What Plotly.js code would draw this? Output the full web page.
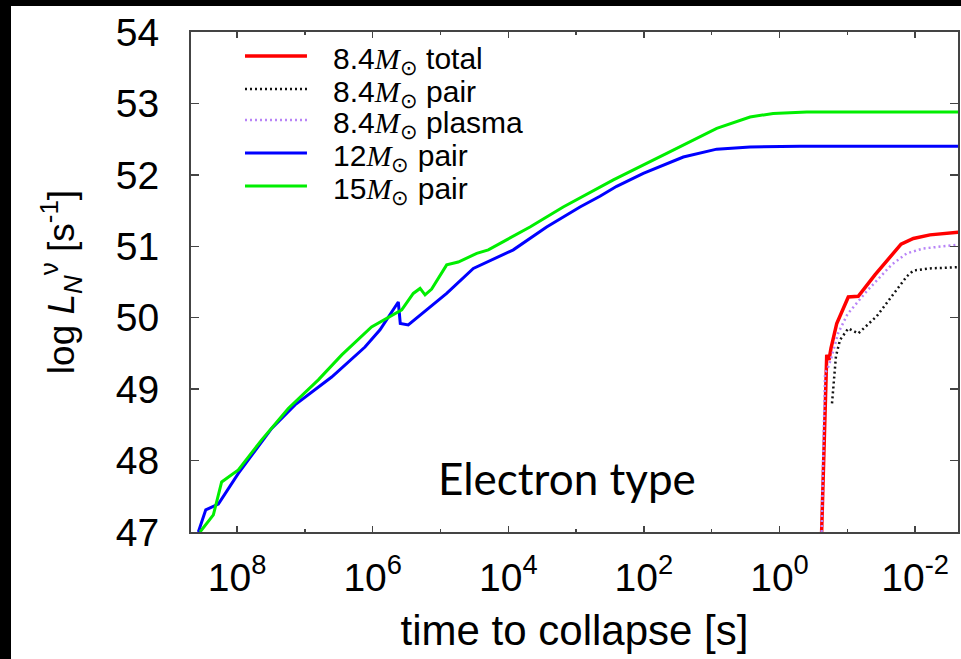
<!DOCTYPE html>
<html><head><meta charset="utf-8">
<script src="https://cdn.plot.ly/plotly-3.0.1.min.js"></script>
<style>
html,body{margin:0;padding:0;background:#fff;width:961px;height:659px;overflow:hidden}
#chart{position:absolute;left:0;top:0;width:961px;height:659px}
.strip{position:absolute;background:#000;z-index:10}
</style></head><body>
<div id="chart"></div>
<div class="strip" style="left:0;top:0;width:961px;height:6px"></div>
<div class="strip" style="left:0;top:0;width:11px;height:659px"></div>
<script>
// time to collapse [s] and log L_N^nu [s^-1]
const t12 = [3.73e8, 2.90e8, 1.89e8, 9.59e7, 3.09e7, 1.40e7, 4.03e6, 1.30e6, 7.80e5, 4.19e5, 3.92e5, 2.99e5, 8.11e4, 3.28e4, 8.43e3, 2.72e3, 877, 445, 252, 102, 26.2, 8.43, 2.72, 0.499, 2.10e-3];
const L12 = [47.00, 47.31, 47.39, 47.82, 48.45, 48.78, 49.17, 49.59, 49.83, 50.22, 49.92, 49.90, 50.34, 50.69, 50.95, 51.27, 51.55, 51.70, 51.84, 52.02, 52.25, 52.36, 52.39, 52.40, 52.40];

const t15 = [3.52e8, 2.24e8, 1.69e8, 9.59e7, 4.34e7, 1.76e7, 6.34e6, 2.86e6, 1.04e6, 3.73e5, 2.52e5, 2.00e5, 1.69e5, 1.35e5, 8.11e4, 5.47e4, 2.92e4, 1.97e4, 1.06e4, 4.79e3, 1.55e3, 282, 46.1, 8.43, 2.72, 1.24, 0.397, 2.10e-3];
const L15 = [47.00, 47.24, 47.70, 47.87, 48.29, 48.73, 49.13, 49.48, 49.87, 50.11, 50.34, 50.41, 50.32, 50.40, 50.74, 50.78, 50.90, 50.95, 51.09, 51.27, 51.55, 51.93, 52.30, 52.65, 52.81, 52.86, 52.88, 52.88];

const t84total = [0.239, 0.226, 0.213, 0.208, 0.201, 0.186, 0.174, 0.143, 0.0966, 0.0689, 0.0391, 0.0161, 0.0106, 6.03e-3, 2.10e-3];
const L84total = [47.00, 47.91, 48.85, 49.36, 49.48, 49.41, 49.57, 49.92, 50.29, 50.30, 50.60, 51.03, 51.11, 51.16, 51.20];

const t84plasma = [0.239, 0.213, 0.191, 0.170, 0.137, 0.0993, 0.0518, 0.0223, 0.0133, 7.57e-3, 2.41e-3, 2.10e-3];
const L84plasma = [47.00, 49.22, 49.31, 49.45, 49.78, 50.05, 50.37, 50.74, 50.90, 50.97, 51.02, 51.03];

const t84pair = [0.168, 0.157, 0.147, 0.128, 0.0966, 0.0689, 0.0369, 0.0132, 0.0106, 6.03e-3, 2.10e-3];
const L84pair = [48.80, 49.20, 49.46, 49.69, 49.85, 49.78, 50.02, 50.58, 50.66, 50.69, 50.71];

const xTickVals = [1e8, 1e6, 1e4, 1e2, 1, 1e-2];
const xTickText = ['10<sup>8</sup>', '10<sup>6</sup>', '10<sup>4</sup>', '10<sup>2</sup>', '10<sup>0</sup>', '10<sup>-2</sup>'];
const xMinorVals = [1e7, 1e5, 1e3, 1e1, 1e-1];
const yTickVals = [47, 48, 49, 50, 51, 52, 53, 54];

const seriesNames = ['8.4<span style="font-family:Liberation Serif"><i>M</i></span><sub>⊙</sub> total',
                     '8.4<span style="font-family:Liberation Serif"><i>M</i></span><sub>⊙</sub> pair',
                     '8.4<span style="font-family:Liberation Serif"><i>M</i></span><sub>⊙</sub> plasma',
                     '12<span style="font-family:Liberation Serif"><i>M</i></span><sub>⊙</sub> pair',
                     '15<span style="font-family:Liberation Serif"><i>M</i></span><sub>⊙</sub> pair'];
const seriesColors = ['#ff0000', '#111111', '#b884f7', '#0000ff', '#00ee00'];
const seriesDash = ['solid', '2px,3px', '2px,3px', 'solid', 'solid'];
const seriesWidth = [3.5, 2.5, 2.5, 3, 3];

const F = 'Liberation Sans, Arial, sans-serif';

const traces = [
  {x: t12, y: L12, idx: 3},
  {x: t15, y: L15, idx: 4},
  {x: t84total, y: L84total, idx: 0},
  {x: t84pair, y: L84pair, idx: 1},
  {x: t84plasma, y: L84plasma, idx: 2}
].map(s => ({
  x: s.x, y: s.y, type: 'scatter', mode: 'lines', name: seriesNames[s.idx],
  line: {color: seriesColors[s.idx], width: seriesWidth[s.idx], dash: seriesDash[s.idx]},
  showlegend: false, hoverinfo: 'skip'
}));

// legend drawn inside the frame, top-left
const legY = [0.952, 0.886, 0.824, 0.758, 0.692];
const shapes = [];
const annotations = [];
for (let i = 0; i < seriesNames.length; i++) {
  shapes.push({type: 'line', xref: 'paper', yref: 'paper', x0: 0.0704, x1: 0.1512, y0: legY[i], y1: legY[i],
               line: {color: seriesColors[i], width: seriesWidth[i], dash: seriesDash[i]}});
  annotations.push({xref: 'paper', yref: 'paper', x: 0.183, y: legY[i] - 0.008, xanchor: 'left', yanchor: 'middle',
                    text: seriesNames[i], showarrow: false, font: {family: F, size: 30, color: '#000'}});
}
annotations.push({xref: 'paper', yref: 'paper', x: 0.490, y: 0.108, xanchor: 'center', yanchor: 'middle',
                  text: 'Electron type', showarrow: false, font: {family: 'Lato, Open Sans, sans-serif', size: 44, color: '#000'}});

const axisCommon = {
  showline: true, linecolor: '#444', linewidth: 2, mirror: 'ticks',
  ticks: 'inside', tickcolor: '#444', tickwidth: 1.5,
  showgrid: false, zeroline: false,
  tickfont: {family: F, size: 39, color: '#000'}
};

const layout = {
  width: 961, height: 659,
  margin: {l: 191, r: 3, t: 32, b: 127},
  paper_bgcolor: '#fff', plot_bgcolor: '#fff',
  showlegend: false,
  xaxis: Object.assign({}, axisCommon, {
    type: 'log', autorange: false, range: [8.68, -2.633],
    tickmode: 'array', tickvals: xTickVals, ticktext: xTickText, ticklen: 6,
    ticklabelstandoff: 10,
    minor: {tickmode: 'array', tickvals: xMinorVals, ticks: 'inside', ticklen: 3, tickcolor: '#444', tickwidth: 1.5, showgrid: false},
    title: {text: 'time to collapse [s]', font: {family: F, size: 42, color: '#000'}, standoff: 18}
  }),
  yaxis: Object.assign({}, axisCommon, {
    autorange: false, range: [47, 54],
    tickmode: 'array', tickvals: yTickVals, ticklen: 8, ticklabelstandoff: 22,
    title: {text: 'log <i>L</i><sub><i>N</i></sub><sup>ν</sup> [s<sup>-1</sup>]', font: {family: F, size: 37, color: '#000'}, standoff: 30}
  }),
  shapes: shapes,
  annotations: annotations
};

Plotly.newPlot('chart', traces, layout, {staticPlot: true, displayModeBar: false});
</script></body></html>
